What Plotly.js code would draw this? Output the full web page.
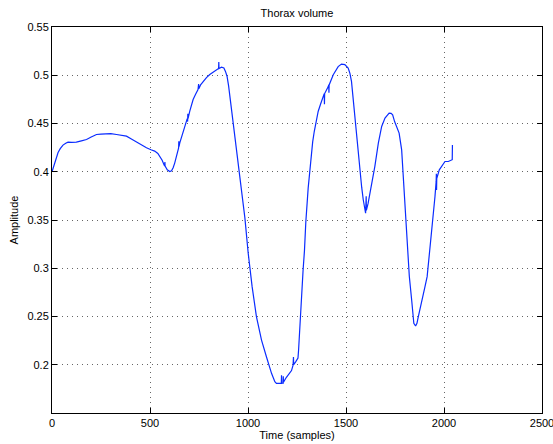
<!DOCTYPE html>
<html>
<head>
<meta charset="utf-8">
<script src="https://cdn.plot.ly/plotly-3.0.1.min.js"></script>
<style>
  html, body { margin: 0; padding: 0; background: #fff; }
  #chart { width: 553px; height: 444px; }
</style>
</head>
<body>
<div id="chart"></div>
<script>
// Sample index (x) and thorax volume amplitude (y)
const sampleIdx = [
  0, 7, 14, 22, 31, 42, 56, 70, 82, 100, 124, 150, 176, 200, 227, 250, 278, 300, 329, 355,
  380, 405, 431, 455, 482, 505, 524, 540, 550, 562, 572, 575, 576, 577, 588, 601, 610, 618, 626, 635,
  644, 646, 647, 648, 652, 660, 669, 676, 683, 690, 692, 693, 694, 703, 712, 720, 732, 745, 748, 749,
  758, 771, 788, 805, 822, 839, 850, 851, 852, 865, 877, 885, 893, 901, 910, 921, 932, 943, 954, 969,
  984, 1001, 1021, 1043, 1069, 1094, 1110, 1120, 1130, 1137, 1145, 1162, 1170, 1171, 1172, 1179, 1180, 1181, 1196, 1213,
  1222, 1230, 1232, 1233, 1243, 1251, 1255, 1258, 1262, 1264, 1265, 1273, 1281, 1288, 1295, 1307, 1314, 1321, 1330, 1338,
  1348, 1358, 1370, 1384, 1389, 1390, 1391, 1409, 1412, 1413, 1414, 1435, 1460, 1477, 1494, 1511, 1520, 1528, 1537, 1545,
  1554, 1562, 1571, 1580, 1588, 1595, 1600, 1603, 1604, 1613, 1630, 1647, 1665, 1682, 1699, 1710, 1720, 1730, 1738, 1748,
  1758, 1771, 1784, 1795, 1809, 1823, 1835, 1846, 1855, 1862, 1869, 1886, 1903, 1914, 1928, 1942, 1954, 1960, 1961, 1962,
  1963, 1976, 1988, 2005, 2022, 2039, 2042, 2043
];
const thoraxAmp = [
  0.400, 0.405, 0.409, 0.415, 0.420, 0.424, 0.4276, 0.4295, 0.4307, 0.4305, 0.4307, 0.432, 0.4334, 0.436, 0.4386, 0.439, 0.4397, 0.4395, 0.4386, 0.438,
  0.4369, 0.434, 0.4307, 0.4275, 0.4248, 0.4228, 0.4214, 0.419, 0.4162, 0.412, 0.407, 0.4059, 0.410, 0.406, 0.402, 0.4003, 0.401, 0.4041, 0.409, 0.4162,
  0.423, 0.4248, 0.4317, 0.426, 0.430, 0.435, 0.4403, 0.445, 0.4507, 0.455, 0.452, 0.460, 0.455, 0.4628, 0.469, 0.4748, 0.480, 0.4852, 0.491, 0.486,
  0.490, 0.4938, 0.4975, 0.5007, 0.503, 0.5059, 0.507, 0.5138, 0.507, 0.5083, 0.5076, 0.504, 0.499, 0.489, 0.4748, 0.458, 0.4403, 0.421, 0.4024, 0.377,
  0.3524, 0.3156, 0.2809, 0.2498, 0.2256, 0.2083, 0.197, 0.1911, 0.186, 0.1824, 0.1807, 0.1807, 0.1807, 0.189, 0.181, 0.1807, 0.188, 0.182, 0.187, 0.1911,
  0.194, 0.1997, 0.208, 0.200, 0.203, 0.2049, 0.207, 0.215, 0.232, 0.236, 0.238, 0.274, 0.298, 0.318, 0.348, 0.383, 0.400, 0.4175, 0.431, 0.4417,
  0.453, 0.4625, 0.470, 0.478, 0.481, 0.470, 0.481, 0.488, 0.490, 0.482, 0.490, 0.5005, 0.509, 0.5116, 0.511, 0.5075, 0.502, 0.4936, 0.4745, 0.459,
  0.433, 0.4175, 0.3985, 0.384, 0.371, 0.362, 0.357, 0.3745, 0.360, 0.3674, 0.3847, 0.4054, 0.4297, 0.4469, 0.4556, 0.459, 0.4608, 0.4605, 0.459, 0.452,
  0.4469, 0.440, 0.4227, 0.3882, 0.3432, 0.2917, 0.2671, 0.243, 0.2401, 0.243, 0.2498, 0.2671, 0.2809, 0.2913, 0.319, 0.350, 0.3743, 0.390, 0.398, 0.381,
  0.393, 0.402, 0.4054, 0.4106, 0.4106, 0.4123, 0.4125, 0.4278
];

const xTickVals = [0, 500, 1000, 1500, 2000, 2500];
const xTickText = ['0', '500', '1000', '1500', '2000', '2500'];
const yTickVals = [0.2, 0.25, 0.3, 0.35, 0.4, 0.45, 0.5, 0.55];
const yTickText = ['0.2', '0.25', '0.3', '0.35', '0.4', '0.45', '0.5', '0.55'];

const FONT = 'Liberation Sans, Arial, Helvetica, sans-serif';

const trace = {
  x: sampleIdx,
  y: thoraxAmp,
  type: 'scatter',
  mode: 'lines',
  line: { color: '#0a2cff', width: 1.2 },
  hoverinfo: 'skip'
};

const axisCommon = {
  showline: true,
  linecolor: '#000',
  linewidth: 1,
  mirror: 'ticks',
  ticks: 'inside',
  ticklen: 5,
  tickwidth: 1,
  tickcolor: '#000',
  showgrid: true,
  gridcolor: '#666',
  griddash: '1px,4px',
  gridwidth: 1,
  zeroline: false,
  tickfont: { family: FONT, size: 11, color: '#000' },
  ticklabeloverflow: 'allow',
  automargin: false
};

const layout = {
  width: 553,
  height: 444,
  margin: { l: 52, r: 11, t: 27, b: 31 },
  paper_bgcolor: '#fff',
  plot_bgcolor: '#fff',
  showlegend: false,
  title: {
    text: 'Thorax volume',
    font: { family: FONT, size: 11, color: '#000' },
    x: 0.5, xref: 'paper', xanchor: 'center',
    y: 1 - 13 / 444, yref: 'container', yanchor: 'middle'
  },
  xaxis: Object.assign({}, axisCommon, {
    range: [0, 2500],
    tickmode: 'array',
    tickvals: xTickVals,
    ticktext: xTickText,
    title: { text: 'Time (samples)', font: { family: FONT, size: 11, color: '#000' }, standoff: 2 }
  }),
  yaxis: Object.assign({}, axisCommon, {
    range: [0.15, 0.55],
    tickmode: 'array',
    tickvals: yTickVals,
    ticktext: yTickText,
    title: { text: 'Amplitude', font: { family: FONT, size: 11, color: '#000' }, standoff: 6 }
  })
};

Plotly.newPlot('chart', [trace], layout, { staticPlot: true, displayModeBar: false });
</script>
</body>
</html>
